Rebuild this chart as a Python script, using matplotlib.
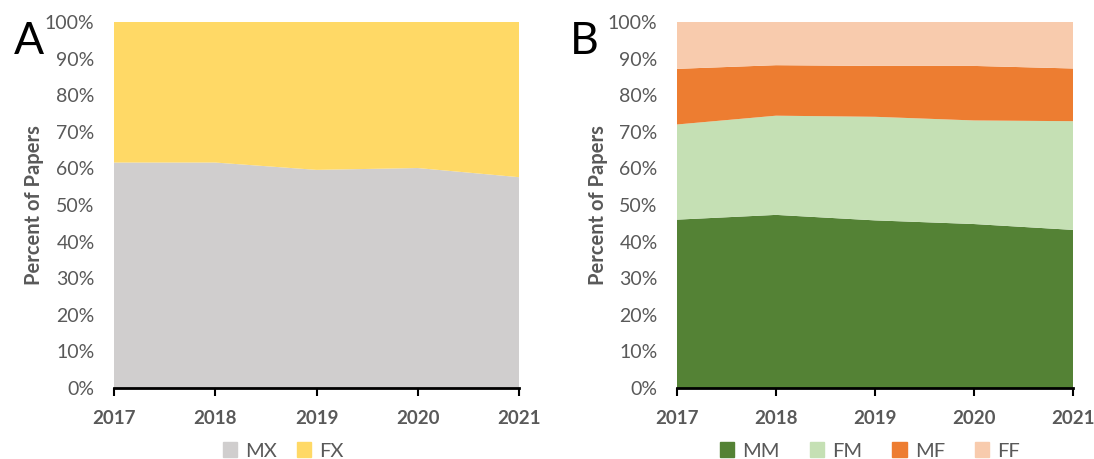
import matplotlib
matplotlib.use("Agg")
import matplotlib.pyplot as plt
from matplotlib.patches import Patch
from matplotlib.ticker import FuncFormatter

years = [2017, 2018, 2019, 2020, 2021]
year_labels = ["2017", "2018", "2019", "2020", "2021"]

# Panel A (percent)
mx = [61.6, 61.6, 59.6, 60.1, 57.6]
fx = [38.4, 38.4, 40.4, 39.9, 42.4]

# Panel B (percent)
mm = [46.0, 47.3, 45.8, 44.8, 43.2]
fm = [26.0, 27.1, 28.3, 28.3, 29.7]
mf = [15.2, 13.8, 13.9, 14.9, 14.4]
ff = [12.8, 11.8, 12.0, 12.0, 12.7]

colors_a = ["#D0CECE", "#FFD966"]
colors_b = ["#548235", "#C5E0B4", "#ED7D31", "#F8CBAD"]

plt.rcParams['font.family'] = ['Lato', 'DejaVu Sans']
gray = "#595959"

fig = plt.figure(figsize=(10.94, 4.59), dpi=100)
axA = fig.add_axes([114/1094, 1-388/459, (519-114)/1094, (388-22)/459])
axB = fig.add_axes([677/1094, 1-388/459, (1073-677)/1094, (388-22)/459])


def style(ax, xlab_x):
    ax.set_xlim(years[0], years[-1])
    ax.set_ylim(0, 100)
    ax.set_xticks(years)
    ax.set_xticklabels(year_labels, fontsize=13.5, fontweight='bold', color=gray)
    ax.set_yticks(range(0, 101, 10))
    ax.yaxis.set_major_formatter(FuncFormatter(lambda v, p: f"{int(v)}%"))
    ax.tick_params(axis='y', length=0, labelsize=14, labelcolor=gray, pad=14)
    ax.tick_params(axis='x', direction='out', length=6, width=1.5, color='black', pad=10)
    for s in ['top', 'right', 'left']:
        ax.spines[s].set_visible(False)
    ax.spines['bottom'].set_linewidth(2)
    ax.spines['bottom'].set_color('black')
    ax.set_ylabel("Percent of Papers", fontsize=14.5, fontweight='bold', color=gray)
    ax.yaxis.set_label_coords(xlab_x, 0.5)


axA.stackplot(years, mx, fx, colors=colors_a, linewidth=0)
style(axA, -0.172)
axB.stackplot(years, mm, fm, mf, ff, colors=colors_b, linewidth=0)
style(axB, -0.175)

fig.text(29/1094, 1-42/459, "A", fontsize=32, ha='center', va='center', color='black')
fig.text(584/1094, 1-42/459, "B", fontsize=32, ha='center', va='center', color='black')

legA = fig.legend(handles=[Patch(color=c, label=l) for c, l in zip(colors_a, ["MX", "FX"])],
                  loc='center', bbox_to_anchor=(283/1094, 1-451/459), ncol=2, frameon=False,
                  fontsize=14.5, handlelength=0.7, handleheight=0.7, columnspacing=1.0, handletextpad=0.4)
for t in legA.get_texts():
    t.set_color(gray)
legB = fig.legend(handles=[Patch(color=c, label=l) for c, l in zip(colors_b, ["MM", "FM", "MF", "FF"])],
                  loc='center', bbox_to_anchor=(870/1094, 1-451/459), ncol=4, frameon=False,
                  fontsize=14.5, handlelength=0.7, handleheight=0.7, columnspacing=1.5, handletextpad=0.4)
for t in legB.get_texts():
    t.set_color(gray)

fig.savefig("out.png", dpi=100)
